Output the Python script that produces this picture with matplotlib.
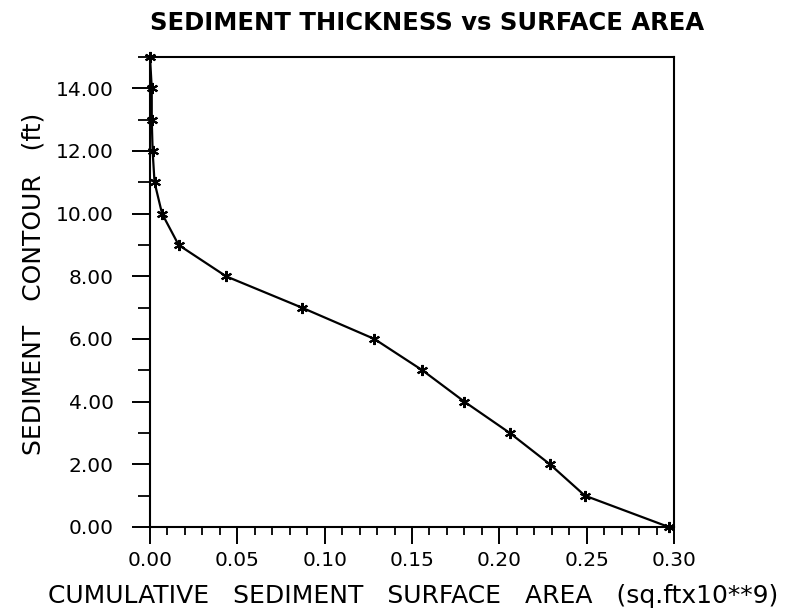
import matplotlib
matplotlib.use("Agg")
import matplotlib.pyplot as plt
from matplotlib.ticker import MultipleLocator, FormatStrFormatter

# =========================
# data
# =========================
contour_ft = [0, 1, 2, 3, 4, 5, 6, 7, 8, 9, 10, 11, 12, 13, 14, 15]
surface_area = [0.297, 0.249, 0.229, 0.206, 0.180, 0.156, 0.1285, 0.087,
                0.0436, 0.0164, 0.0069, 0.0026, 0.0015, 0.001, 0.001, 0.0]

TITLE = "SEDIMENT THICKNESS vs SURFACE AREA"
XLABEL = "CUMULATIVE   SEDIMENT   SURFACE   AREA   (sq.ftx10**9)"
YLABEL = "SEDIMENT   CONTOUR   (ft)"

# =========================
# layout
# =========================
W, H = 794, 615
fig = plt.figure(figsize=(W / 100, H / 100), dpi=100)
ax = fig.add_axes([150 / W, (H - 527) / H, 524 / W, 470 / H])

ax.plot(surface_area, contour_ft, color="black", lw=1.6,
        marker=(6, 2, 0), ms=8, mew=1.5, clip_on=False, zorder=5)

ax.set_xlim(0, 0.30)
ax.set_ylim(0, 15)

ax.xaxis.set_major_locator(MultipleLocator(0.05))
ax.xaxis.set_minor_locator(MultipleLocator(0.01))
ax.yaxis.set_major_locator(MultipleLocator(2))
ax.yaxis.set_minor_locator(MultipleLocator(1))
ax.xaxis.set_major_formatter(FormatStrFormatter("%.2f"))
ax.yaxis.set_major_formatter(FormatStrFormatter("%.2f"))

for s in ax.spines.values():
    s.set_linewidth(1.5)

ax.tick_params(axis="x", which="major", direction="out", length=12, width=1.4,
               pad=5, labelsize=14.5)
ax.tick_params(axis="x", which="minor", direction="out", length=6, width=1.3)
ax.tick_params(axis="y", which="major", direction="out", length=13, width=1.4,
               pad=13, labelsize=14.5)
ax.tick_params(axis="y", which="minor", direction="out", length=9, width=1.3)

fig.text(427 / W, (H - 30) / H, TITLE, ha="center", va="baseline",
         fontsize=17.5, fontweight="bold", family="DejaVu Sans")
fig.text(413 / W, (H - 603) / H, XLABEL, ha="center", va="baseline",
         fontsize=18)
fig.text(34 / W, (H - 284) / H, YLABEL, ha="center", va="center",
         rotation=90, fontsize=18)

fig.savefig("out.png", dpi=100)
